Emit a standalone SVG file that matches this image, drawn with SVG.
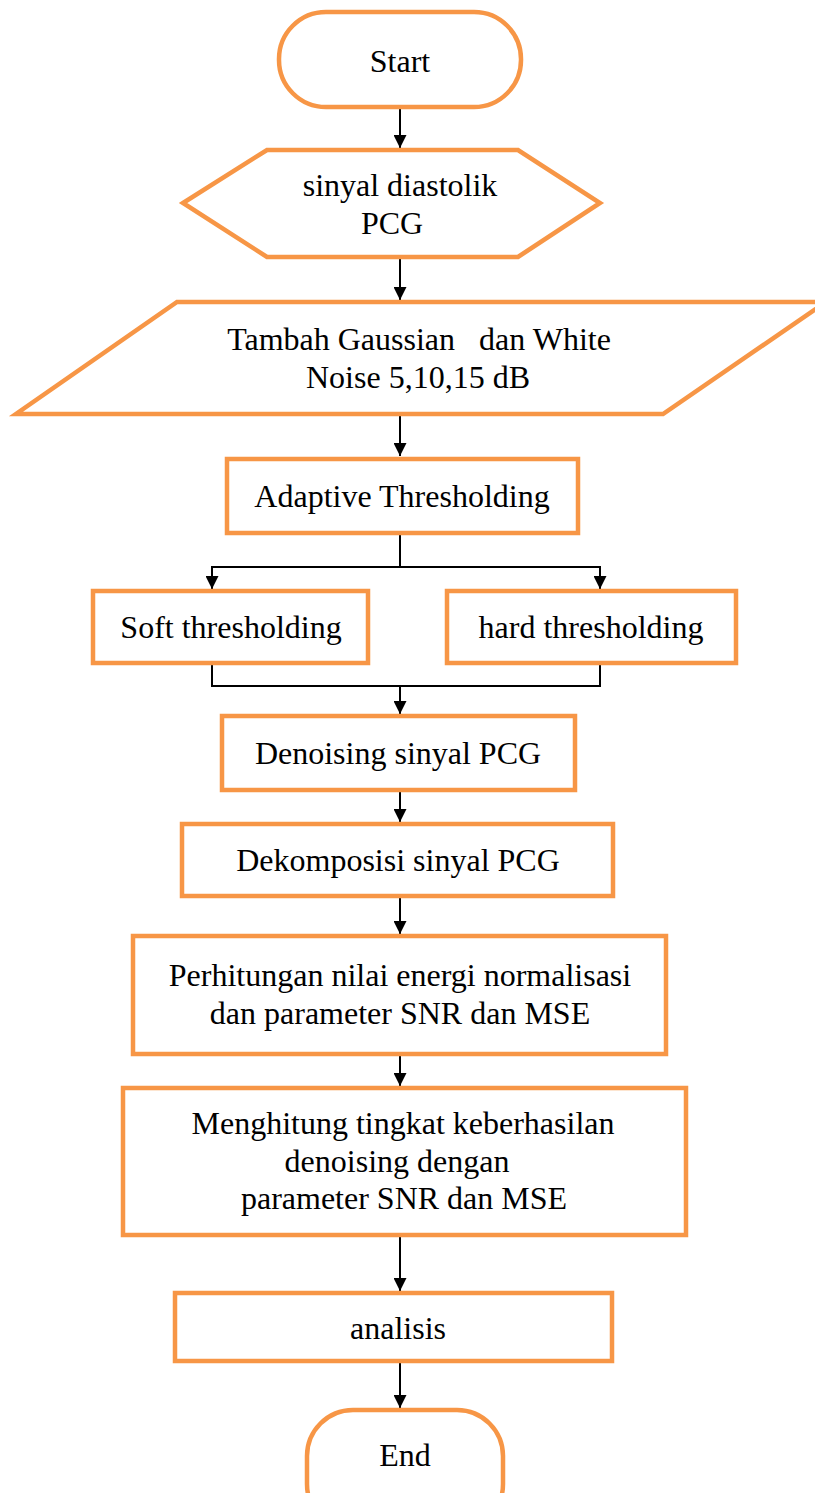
<svg xmlns="http://www.w3.org/2000/svg" width="815" height="1493" viewBox="0 0 815 1493">
  <style>
    .box { fill: #ffffff; stroke: #F79646; stroke-width: 4.5; stroke-linejoin: miter; }
    .lbl { font-family: "Liberation Serif", "Times New Roman", serif; font-size: 32px; fill: #000000; text-anchor: middle; white-space: pre; }
    .wire { fill: none; stroke: #000000; stroke-width: 2; }
  </style>
  <defs>
    <marker id="head" viewBox="0 0 10 10" refX="10" refY="5" markerWidth="6.5" markerHeight="6.5" markerUnits="strokeWidth" orient="auto">
      <path d="M0,0 L10,5 L0,10 Z" fill="#000000"/>
    </marker>
  </defs>
  <rect width="815" height="1493" fill="#ffffff"/>

  <!-- connectors -->
  <g id="connectors">
    <line class="wire" x1="400" y1="107" x2="400" y2="148" marker-end="url(#head)"/>
    <line class="wire" x1="400" y1="257" x2="400" y2="300" marker-end="url(#head)"/>
    <line class="wire" x1="400" y1="414" x2="400" y2="456" marker-end="url(#head)"/>
    <line class="wire" x1="400" y1="533" x2="400" y2="567"/>
    <polyline class="wire" points="400,567 212,567 212,589" marker-end="url(#head)"/>
    <polyline class="wire" points="400,567 600,567 600,589" marker-end="url(#head)"/>
    <polyline class="wire" points="212,663 212,686 600,686 600,663"/>
    <line class="wire" x1="400" y1="686" x2="400" y2="714" marker-end="url(#head)"/>
    <line class="wire" x1="400" y1="790" x2="400" y2="822" marker-end="url(#head)"/>
    <line class="wire" x1="400" y1="896" x2="400" y2="934" marker-end="url(#head)"/>
    <line class="wire" x1="400" y1="1054" x2="400" y2="1086" marker-end="url(#head)"/>
    <line class="wire" x1="400" y1="1235" x2="400" y2="1291" marker-end="url(#head)"/>
    <line class="wire" x1="400" y1="1361" x2="400" y2="1408" marker-end="url(#head)"/>
  </g>

  <g id="start">
    <rect class="box" x="279" y="12" width="242" height="95" rx="47" ry="47"/>
    <text class="lbl" x="400" y="72">Start</text>
  </g>

  <g id="input-signal">
    <polygon class="box" points="183,203 267,150 518,150 600,203 518,257 267,257"/>
    <text class="lbl" x="400" y="196">sinyal diastolik</text>
    <text class="lbl" x="392" y="234">PCG</text>
  </g>

  <g id="add-noise">
    <polygon class="box" points="177,302 826,302 663,414 16,414"/>
    <text class="lbl" x="419" y="350">Tambah Gaussian   dan White</text>
    <text class="lbl" x="418" y="388">Noise 5,10,15 dB</text>
  </g>

  <g id="adaptive">
    <rect class="box" x="227" y="459" width="351" height="74"/>
    <text class="lbl" x="402" y="507">Adaptive Thresholding</text>
  </g>

  <g id="soft">
    <rect class="box" x="93" y="591" width="275" height="72"/>
    <text class="lbl" x="231" y="638">Soft thresholding</text>
  </g>

  <g id="hard">
    <rect class="box" x="447" y="591" width="289" height="72"/>
    <text class="lbl" x="591" y="638">hard thresholding</text>
  </g>

  <g id="denoising">
    <rect class="box" x="222" y="716" width="353" height="74"/>
    <text class="lbl" x="398" y="764">Denoising sinyal PCG</text>
  </g>

  <g id="decomposition">
    <rect class="box" x="182" y="824" width="431" height="72"/>
    <text class="lbl" x="398" y="871">Dekomposisi sinyal PCG</text>
  </g>

  <g id="energy">
    <rect class="box" x="133" y="936" width="533" height="118"/>
    <text class="lbl" x="400" y="986">Perhitungan nilai energi normalisasi</text>
    <text class="lbl" x="400" y="1024">dan parameter SNR dan MSE</text>
  </g>

  <g id="success-rate">
    <rect class="box" x="123" y="1088" width="563" height="147"/>
    <text class="lbl" x="403" y="1134">Menghitung tingkat keberhasilan</text>
    <text class="lbl" x="397" y="1172">denoising dengan</text>
    <text class="lbl" x="404" y="1209">parameter SNR dan MSE</text>
  </g>

  <g id="analysis">
    <rect class="box" x="175" y="1293" width="437" height="68"/>
    <text class="lbl" x="398" y="1339">analisis</text>
  </g>

  <g id="end">
    <rect class="box" x="307" y="1410" width="196" height="120" rx="46" ry="46"/>
    <text class="lbl" x="405" y="1466">End</text>
  </g>
</svg>
